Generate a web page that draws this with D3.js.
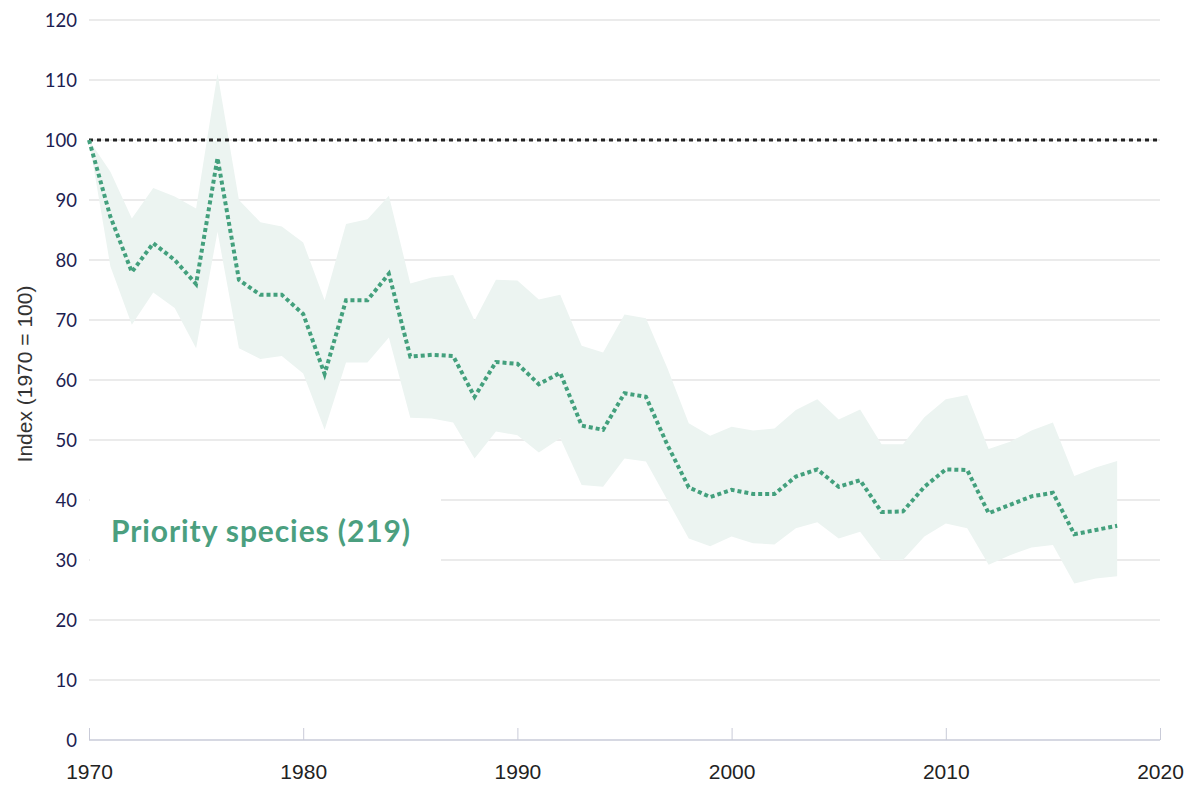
<!DOCTYPE html>
<html><head><meta charset="utf-8">
<script src="https://cdn.jsdelivr.net/npm/d3@7"></script>
<style>body{margin:0;background:#fff}svg{display:block}</style>
</head><body>
<svg id="c" width="1184" height="786"></svg>
<script>
const years = d3.range(1970, 2019);
const indexValues = [100,87.2,78,82.8,80,76,97,76.7,74.2,74.2,71,61,73.3,73.3,77.7,63.9,64.2,64,57.2,63,62.7,59.3,61.2,52.4,51.7,57.8,57.2,49.2,42.1,40.5,41.7,41,41,43.9,45.1,42.2,43.3,38,38.1,42.2,45.1,45,37.8,39.2,40.6,41.2,34.3,35,35.7];
const upperValues = [100,94.7,86.9,92,90.6,88.6,111.1,90,86.3,85.6,82.9,73.3,86,86.8,90.7,76.1,77.1,77.5,69.9,76.7,76.6,73.4,74.2,65.7,64.6,70.9,70.3,62,52.8,50.7,52.2,51.6,51.9,55,56.8,53.4,55.1,49.3,49.3,53.8,56.8,57.5,48.5,49.7,51.6,52.9,44,45.4,46.5];
const lowerValues = [100,78.9,69.2,74.6,72,65.3,84.7,65.3,63.5,64,61.1,51.7,62.9,62.9,67.1,53.7,53.6,52.9,46.9,51.4,50.8,47.9,50.3,42.5,42.2,46.9,46.4,40,33.6,32.3,33.9,32.8,32.6,35.3,36.3,33.6,34.7,30,30,33.9,36.1,35.3,29.2,30.8,32.1,32.5,26.1,26.9,27.3];
const xTicks = [1970,1980,1990,2000,2010,2020];
const yTicks = [0,10,20,30,40,50,60,70,80,90,100,110,120];
const baseline = 100;
const seriesLabel = "Priority species (219)";
const yTitle = "Index (1970 = 100)";

const svg = d3.select("#c");
const x = d3.scaleLinear().domain([1970, 2020]).range([89, 1160]);
const y = d3.scaleLinear().domain([0, 120]).range([740, 20]);
const font = "Lato, 'Open Sans', sans-serif";
const narrow = "'Liberation Sans Narrow', 'Arial Narrow', 'Liberation Sans', sans-serif";

// gridlines
svg.append("g").selectAll("line").data(yTicks.filter(d => d > 0)).join("line")
  .attr("x1", x(1970)).attr("x2", x(2020))
  .attr("y1", d => y(d)).attr("y2", d => y(d))
  .attr("stroke", "#ebebeb").attr("stroke-width", 2);

// white box behind the label
svg.append("rect").attr("x", x(1970) + 1).attr("y", y(45)).attr("width", 351).attr("height", y(26) - y(45)).attr("fill", "#fff");

// y tick labels
svg.append("g").selectAll("text").data(yTicks).join("text")
  .attr("x", 77).attr("y", d => y(d)).attr("dy", "0.36em")
  .attr("text-anchor", "end").attr("font-family", font).attr("font-size", 18.5)
  .attr("fill", "#1c2150").text(d => d);

// y title
svg.append("text").attr("transform", `translate(32,${y(61)}) rotate(-90)`)
  .attr("text-anchor", "middle").attr("font-family", narrow).attr("font-size", 21)
  .attr("fill", "#333").text(yTitle);

// x axis
const xAxis = d3.axisBottom(x).tickValues(xTicks).tickSize(-12).tickPadding(24).tickFormat(d3.format("d"));
const gx = svg.append("g").attr("transform", `translate(0,${y(0)})`).call(xAxis);
gx.select(".domain").attr("stroke", "#c9cbd8").attr("stroke-width", 1.5).attr("d", `M${x(1970)},0H${x(2020)}`);
gx.selectAll(".tick line").attr("stroke", "#c9cbd8");
gx.selectAll(".tick text").attr("font-family", narrow).attr("font-size", 21).attr("fill", "#222");

// band
const bandData = years.map((yr, i) => ({yr, lo: lowerValues[i], hi: upperValues[i]}));
svg.append("path").datum(bandData)
  .attr("d", d3.area().x(d => x(d.yr)).y0(d => y(d.lo)).y1(d => y(d.hi)))
  .attr("fill", "#ecf4f1");

// baseline
svg.append("line").attr("x1", x(1970)).attr("x2", x(2020))
  .attr("y1", y(baseline)).attr("y2", y(baseline))
  .attr("stroke", "#222").attr("stroke-width", 3).attr("stroke-dasharray", "4,4");

// index line
const lineData = years.map((yr, i) => ({yr, v: indexValues[i]}));
svg.append("path").datum(lineData)
  .attr("d", d3.line().x(d => x(d.yr)).y(d => y(d.v)))
  .attr("fill", "none").attr("stroke", "#43a07d").attr("stroke-width", 4)
  .attr("stroke-dasharray", "4,3");

// series label
svg.append("text").attr("x", 111).attr("y", 542)
  .attr("font-family", font).attr("font-size", 30).attr("font-weight", 700)
  .attr("letter-spacing", 0.9)
  .attr("fill", "#4b9f7f").text(seriesLabel);
</script>
</body></html>
